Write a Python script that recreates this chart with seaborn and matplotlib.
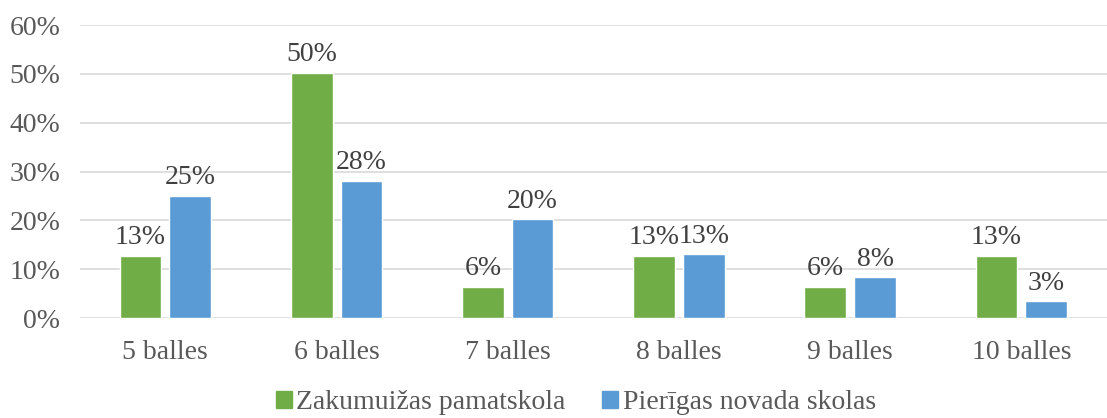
import pandas as pd
import matplotlib.pyplot as plt
import seaborn as sns
from matplotlib.patches import Patch

sns.set_theme(style="white")
plt.rcParams['font.family'] = ['Liberation Serif', 'DejaVu Serif']

categories = ["5 balles", "6 balles", "7 balles", "8 balles", "9 balles", "10 balles"]
series_names = ["Zakumuižas pamatskola", "Pierīgas novada skolas"]
zakumuiza = [12.8, 50.2, 6.4, 12.8, 6.4, 12.8]
pieriga = [25.0, 28.1, 20.2, 13.1, 8.4, 3.4]
zakumuiza_labels = ["13%", "50%", "6%", "13%", "6%", "13%"]
pieriga_labels = ["25%", "28%", "20%", "13%", "8%", "3%"]
colors = ["#70AD47", "#5B9BD5"]

df = pd.DataFrame({
    "Atzīme": categories * 2,
    "Procenti": zakumuiza + pieriga,
    "Skola": [series_names[0]] * 6 + [series_names[1]] * 6,
})

fig = plt.figure(figsize=(11.07, 4.18), dpi=100)
ax = fig.add_axes([0.072, 0.239, 0.928, 0.701])

sns.barplot(data=df, x="Atzīme", y="Procenti", hue="Skola", palette=colors,
            width=0.58, gap=0.16, ax=ax, legend=False, saturation=1)

for cont, labs in zip(ax.containers, [zakumuiza_labels, pieriga_labels]):
    ax.bar_label(cont, labels=labs, padding=4, fontsize=20, color="#404040")

ax.set_ylim(0, 60)
ax.set_xlim(-0.5, 5.5)
ax.set_yticks(range(0, 61, 10))
ax.set_yticklabels([f"{t}%" for t in range(0, 61, 10)])
ax.yaxis.grid(True, color="#D9D9D9", linewidth=1.2)
ax.set_axisbelow(True)
for s in ax.spines.values():
    s.set_visible(False)
ax.tick_params(axis="both", length=0, labelsize=20, labelcolor="#595959")
ax.tick_params(axis="y", pad=14)
ax.tick_params(axis="x", pad=16)
ax.set_xlabel("")
ax.set_ylabel("")

handles = [Patch(color=c) for c in colors]
fig.legend(handles, series_names, loc="center", bbox_to_anchor=(0.52, 0.036),
           ncol=2, frameon=False, fontsize=20, handlelength=0.6, handleheight=0.6,
           handletextpad=0.15, columnspacing=1.3, labelcolor="#595959")

fig.savefig("out.png", dpi=100)
